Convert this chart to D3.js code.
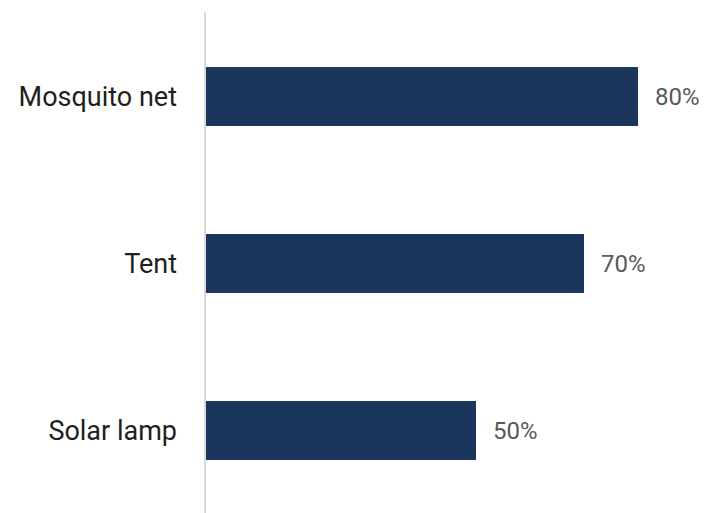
<!DOCTYPE html>
<html><head><meta charset="utf-8">
<script src="https://cdn.jsdelivr.net/npm/d3@7"></script>
<style>html,body{margin:0;padding:0;background:#fff;}</style>
</head><body>
<svg id="c" width="704" height="513"></svg>
<script>
const categories = ["Mosquito net", "Tent", "Solar lamp"];
const values = [80, 70, 50];

const svg = d3.select("#c");
const x = d3.scaleLinear().domain([0, 100]).range([206, 746]);
const y = d3.scaleBand().domain(categories).range([13, 514]).paddingInner(0.647).paddingOuter(0.3235);

svg.append("line").attr("x1", 205).attr("x2", 205).attr("y1", 12).attr("y2", 513)
  .attr("stroke", "#d9d9d9").attr("stroke-width", 2);

svg.selectAll("rect.bar").data(categories).join("rect").attr("class", "bar")
  .attr("x", x(0)).attr("y", d => y(d))
  .attr("width", (d, i) => x(values[i]) - x(0)).attr("height", y.bandwidth())
  .attr("fill", "#1b365d");

svg.selectAll("text.cat").data(categories).join("text").attr("class", "cat")
  .attr("x", 177).attr("y", d => y(d) + y.bandwidth() / 2).attr("dy", "0.35em")
  .attr("text-anchor", "end").attr("font-family", "Roboto, sans-serif").attr("font-size", 27)
  .attr("fill", "#1f1f1f").text(d => d);

svg.selectAll("text.val").data(categories).join("text").attr("class", "val")
  .attr("x", (d, i) => x(values[i]) + 17).attr("y", d => y(d) + y.bandwidth() / 2).attr("dy", "0.35em")
  .attr("font-family", "Roboto, sans-serif").attr("font-size", 24)
  .attr("fill", "#595959").text((d, i) => values[i] + "%");
</script>
</body></html>
